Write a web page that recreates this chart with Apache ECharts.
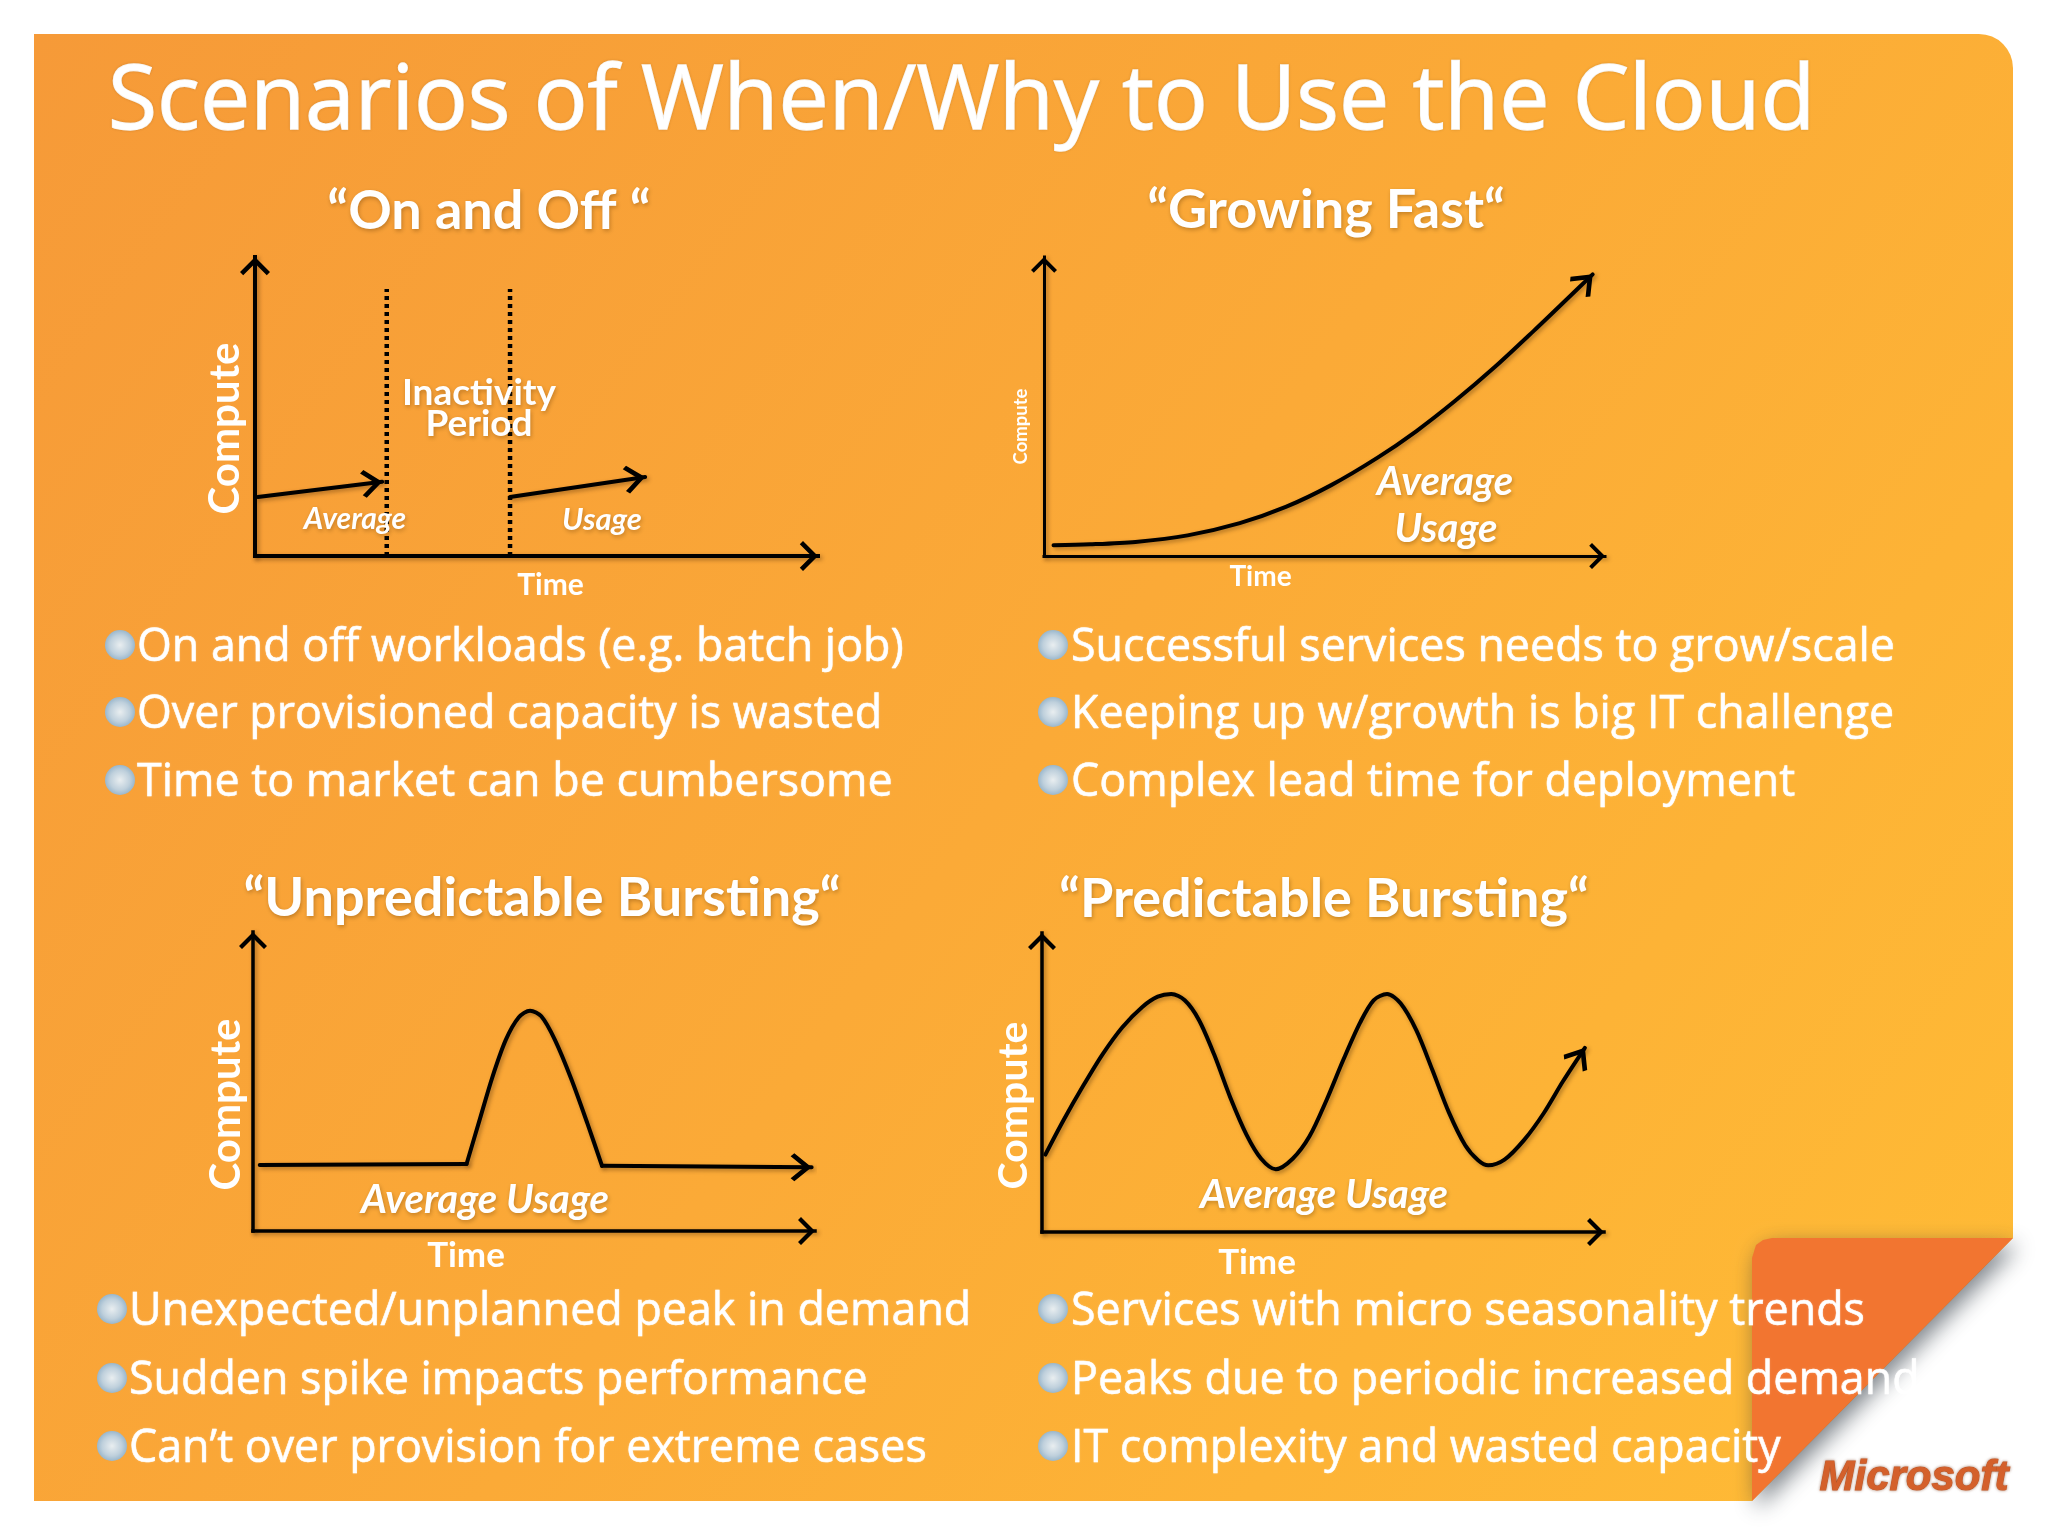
<!DOCTYPE html>
<html><head><meta charset="utf-8">
<style>html,body{margin:0;padding:0;background:#fff}#c{width:2048px;height:1536px}</style>
<script src="https://cdn.jsdelivr.net/npm/echarts@6/dist/echarts.min.js"></script>
</head><body><div id="c"></div>
<script>
// ---------- data (x = time %, y = compute %)
const onOffFirst = [[0.5,19.7],[22.6,24.8]];
const onOffSecond = [[45.3,19.7],[69.3,26.4]];
const onOffInactivityStart = [[23.4,0],[23.4,89.3]];
const onOffInactivityEnd = [[45.3,0],[45.3,89.3]];
const growingFast = [[1.7,3.6],[8.2,3.9],[16.3,4.7],[25.6,6.9],[34.9,11.0],[43.1,16.4],[51.2,23.7],[59.4,32.8],[66.4,41.8],[73.3,51.9],[80.3,63.1],[87.3,75.3],[93.1,85.7],[97.8,94.2]];
const unpredictableBase1 = [[1.2,22.1],[38.0,22.4]];
const unpredictablePeak = [[38.0,22.4],[40.3,37],[42.6,51.5],[45,64],[47.3,71.5],[49.3,73.7],[51.3,71.8],[53.7,64],[56.6,51],[59.5,36],[62.1,21.8]];
const unpredictableBase2 = [[62.1,21.8],[99.4,21.3]];
const predictableBurst = [[0.6,25.9],[3.8,37.3],[7.3,48.8],[10.8,59.5],[14.3,68.5],[17.8,75.2],[20.6,78.7],[23,79.6],[25.4,77.5],[27.9,71],[30.6,59.5],[33.5,45],[36.4,32.5],[39,24.5],[41.6,21],[44.6,24.5],[47.6,32],[50.6,44],[53.6,57.5],[56.6,70],[59,77.5],[61.4,79.6],[63.8,76.5],[66.6,67.5],[69.5,54],[72.4,40],[75.3,29],[77.6,24],[79.4,22.3],[82.3,24.2],[85.8,30.8],[89.3,39.8],[92.7,50.4],[96.6,61.6]];

const mainTitle = 'Scenarios of When/Why to Use the Cloud';
const panelTitles = ['\u201COn and Off \u201C','\u201CGrowing Fast\u201C','\u201CUnpredictable Bursting\u201C','\u201CPredictable Bursting\u201C'];
const bulletsOnOff = ['On and off workloads (e.g. batch job)','Over provisioned capacity is wasted','Time to market can be cumbersome'];
const bulletsGrowing = ['Successful services needs to grow/scale','Keeping up w/growth is big IT challenge','Complex lead time for deployment'];
const bulletsUnpredictable = ['Unexpected/unplanned peak in demand','Sudden spike impacts performance','Can\u2019t over provision for extreme cases'];
const bulletsPredictable = ['Services with micro seasonality trends','Peaks due to periodic increased demand','IT complexity and wasted capacity'];
const xName = 'Time', yName = 'Compute';

// ---------- styling helpers
const FONT = 'Lato';
const BODY = '"Open Sans"';
const ARROW = 'path://M0,-17 L0.01,-17 Z M0,0 L14,14 L11,17 L0,6 L-11,17 L-14,14 Z';
const SHADOW = {shadowColor:'rgba(60,30,0,0.4)',shadowBlur:4,shadowOffsetX:2,shadowOffsetY:2};
const grids = [
  {left:255,top:257,width:563,height:299},
  {left:1044,top:257,width:561,height:299},
  {left:253,top:932,width:562,height:299},
  {left:1042,top:933,width:562,height:299}
];
const axisCfg = [
  {lw:4,xGap:14,xFont:30,xPad:[0,0,0,28],yGap:9,yFont:42,yPad:[0,44,0,0],arrow:[30,44]},
  {lw:3,xGap:7,xFont:28,xPad:[0,128,0,0],yGap:14,yFont:18.5,yPad:[0,40,0,0],arrow:[26,40]},
  {lw:3.5,xGap:7,xFont:35,xPad:[0,136,0,0],yGap:6,yFont:42,yPad:[0,46,0,0],arrow:[28,42]},
  {lw:3.5,xGap:13,xFont:35,xPad:[0,132,0,0],yGap:8,yFont:41,yPad:[0,46,0,0],arrow:[28,42]}
];
const xAxes = [], yAxes = [];
grids.forEach((g,i)=>{
  const c = axisCfg[i];
  const line = {show:true,onZero:false,symbol:['none',ARROW],symbolSize:c.arrow,
    lineStyle:Object.assign({color:'#000',width:c.lw,cap:'square'},SHADOW)};
  xAxes.push({type:'value',gridIndex:i,min:0,max:100,name:xName,nameLocation:'middle',nameGap:c.xGap,
    nameTextStyle:{color:'#fff',fontFamily:FONT,fontWeight:'bold',fontSize:c.xFont,padding:c.xPad,lineHeight:c.xFont},
    axisLine:line,axisTick:{show:false},axisLabel:{show:false},splitLine:{show:false}});
  yAxes.push({type:'value',gridIndex:i,min:0,max:100,name:yName,nameLocation:'middle',nameGap:c.yGap,
    nameTextStyle:{color:'#fff',fontFamily:FONT,fontWeight:'bold',fontSize:c.yFont,padding:c.yPad,lineHeight:c.yFont},
    axisLine:line,axisTick:{show:false},axisLabel:{show:false},splitLine:{show:false}});
});
function curve(name,pts,idx,rot,w,smooth){
  const data = pts.map((p,k)=> (k===pts.length-1 && rot!==null)
    ? {value:p,symbol:ARROW,symbolSize:[28,42],symbolRotate:rot}
    : {value:p,symbol:'none'});
  return {type:'line',name,xAxisIndex:idx,yAxisIndex:idx,data,showSymbol:true,showAllSymbol:true,
    smooth:smooth,silent:true,animation:false,
    itemStyle:{color:'#000'},lineStyle:Object.assign({color:'#000',width:w,cap:'round',join:'round'},SHADOW)};
}
function dotted(name,pts,idx){
  return {type:'line',name,xAxisIndex:idx,yAxisIndex:idx,data:pts,symbol:'none',silent:true,animation:false,
    lineStyle:{color:'#000',width:4.5,type:[4,4]}};
}
const series = [
  curve('Average usage (first)',onOffFirst,0,-83,4,false),
  curve('Average usage (second)',onOffSecond,0,-81.6,4,false),
  dotted('Inactivity start',onOffInactivityStart,0),
  dotted('Inactivity end',onOffInactivityEnd,0),
  curve('Growing fast',growingFast,1,-45,4,0.3),
  curve('Unpredictable baseline before',unpredictableBase1,2,null,4,false),
  curve('Unpredictable burst',unpredictablePeak,2,null,4,0.3),
  curve('Unpredictable baseline after',unpredictableBase2,2,-90,4,false),
  curve('Predictable bursting',predictableBurst,3,-33,4,0.3)
];

// ---------- text and slide decoration
const TS = {textShadowColor:'rgba(90,50,0,0.35)',textShadowBlur:4,textShadowOffsetX:1,textShadowOffsetY:2};
function txt(text,x,y,font,align,extra){
  return {type:'text',x,y,z:20,silent:true,style:Object.assign({text,font,fill:'#fff',align:align||'center',verticalAlign:'middle'},extra||TS)};
}
function bullets(list,bx,tx,ys){
  const out=[];
  list.forEach((t,i)=>{
    out.push({type:'circle',z:19,silent:true,shape:{cx:bx,cy:ys[i],r:15},style:{
      fill:{type:'radial',x:0.5,y:0.5,r:0.55,colorStops:[{offset:0,color:'#E9EEF0'},{offset:0.6,color:'#BFD0DC'},{offset:1,color:'#8FB0C8'}]}}});
    out.push(txt(t,tx,ys[i]+3,'44.8px '+BODY,'left',{stroke:'#fff',lineWidth:0.5,textShadowColor:'rgba(255,255,255,0.25)',textShadowBlur:2}));
  });
  return out;
}
const graphicEls = [
  {type:'rect',z:-10,silent:true,shape:{x:34,y:34,width:1979,height:1467,r:[0,34,0,0]},style:{
    fill:{type:'linear',x:0,y:0,x2:1,y2:1,colorStops:[{offset:0,color:'#F69A38'},{offset:0.5,color:'#FBAA37'},{offset:1,color:'#FFBC35'}]}}},
  {type:'polygon',z:-9,silent:true,shape:{points:[[2013,1238],[2030,1238],[2030,1515],[1752,1515],[1752,1501]]},style:{fill:'#fff'}},
  {type:'polygon',z:-8,silent:true,shape:{points:[[1772,1238],[2013,1238],[1752,1501],[1752,1258],[1756,1245],[1763,1240]]},
    style:{fill:'#F27530',shadowColor:'rgba(40,50,60,0.6)',shadowBlur:22,shadowOffsetX:5,shadowOffsetY:8}},
  txt(mainTitle,108,103,'89.5px '+BODY,'left',{stroke:'#fff',lineWidth:1.4,textShadowColor:'rgba(90,50,0,0.15)',textShadowBlur:3}),
  txt(panelTitles[0],489,212,'bold 54px '+FONT),
  txt(panelTitles[1],1326,211,'bold 54px '+FONT),
  txt(panelTitles[2],542,899,'bold 54px '+FONT),
  txt(panelTitles[3],1324,900,'bold 54px '+FONT),
  txt('Inactivity',479,393,'bold 37px '+FONT),
  txt('Period',479,424,'bold 37px '+FONT),
  txt('Average',355,519,'italic bold 30px '+FONT),
  txt('Usage',602,520,'italic bold 31px '+FONT),
  txt('Average',1445,482,'italic bold 40px '+FONT),
  txt('Usage',1446,529,'italic bold 40px '+FONT),
  txt('Average Usage',485,1200,'italic bold 40px '+FONT),
  txt('Average Usage',1324,1195,'italic bold 40px '+FONT),
  txt('Microsoft',1914,1478,'italic bold 42px "Liberation Sans"','center',{fill:'#D4602B',stroke:'#D4602B',lineWidth:1,textShadowColor:'rgba(120,60,30,0.55)',textShadowBlur:3})
].concat(
  bullets(bulletsOnOff,120,137,[645,712,780]),
  bullets(bulletsGrowing,1053,1071,[645,712,780]),
  bullets(bulletsUnpredictable,112,129,[1309,1378,1446]),
  bullets(bulletsPredictable,1053,1071,[1309,1378,1446])
);

const chart = echarts.init(document.getElementById('c'),null,{renderer:'canvas'});
chart.setOption({
  animation:false,backgroundColor:'#fff',
  grid:grids,xAxis:xAxes,yAxis:yAxes,series,graphic:{elements:graphicEls}
});
</script></body></html>
